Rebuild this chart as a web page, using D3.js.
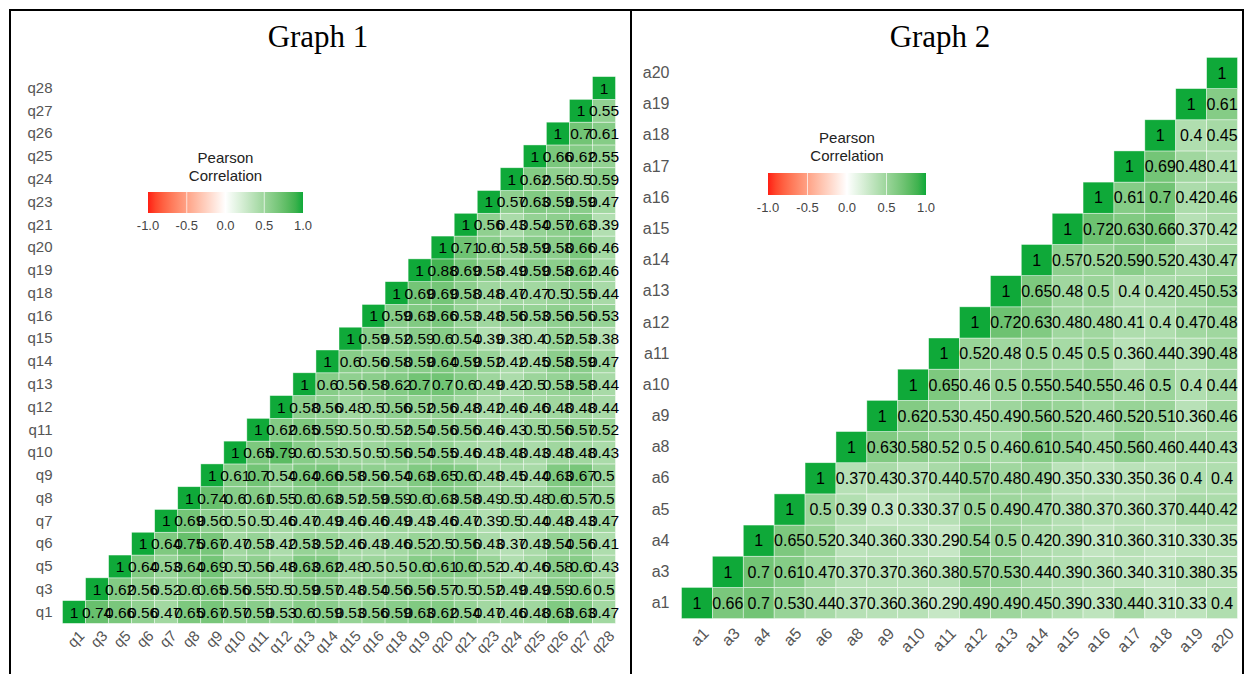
<!DOCTYPE html>
<html>
<head>
<meta charset="utf-8">
<script src="https://cdn.jsdelivr.net/npm/d3@7"></script>
<style>
  html, body { margin: 0; padding: 0; background: #fff; }
  svg { display: block; }
</style>
</head>
<body>
<div id="chart"></div>
<script>
// Graph 1 — questionnaire items (q), upper triangle, each row starts at the diagonal
const Q_VARS = ["q1","q3","q5","q6","q7","q8","q9","q10","q11","q12","q13","q14",
                "q15","q16","q18","q19","q20","q21","q23","q24","q25","q26","q27","q28"];
const Q_CORR = [
  [1,0.74,0.66,0.56,0.47,0.65,0.67,0.57,0.59,0.53,0.6,0.59,0.53,0.56,0.59,0.63,0.62,0.54,0.47,0.46,0.48,0.63,0.63,0.47],
  [1,0.62,0.56,0.52,0.6,0.65,0.56,0.55,0.5,0.59,0.57,0.48,0.54,0.56,0.56,0.57,0.5,0.52,0.49,0.49,0.59,0.6,0.5],
  [1,0.64,0.53,0.64,0.69,0.5,0.56,0.48,0.63,0.62,0.48,0.5,0.5,0.6,0.61,0.6,0.52,0.4,0.46,0.58,0.6,0.43],
  [1,0.64,0.75,0.67,0.47,0.53,0.42,0.53,0.52,0.46,0.43,0.46,0.52,0.5,0.56,0.43,0.37,0.43,0.54,0.56,0.41],
  [1,0.69,0.56,0.5,0.5,0.46,0.47,0.49,0.46,0.46,0.49,0.43,0.46,0.47,0.39,0.5,0.44,0.48,0.43,0.47],
  [1,0.74,0.6,0.61,0.55,0.6,0.63,0.52,0.59,0.59,0.6,0.63,0.58,0.49,0.5,0.48,0.6,0.57,0.5],
  [1,0.61,0.7,0.54,0.64,0.66,0.58,0.56,0.54,0.63,0.65,0.6,0.48,0.45,0.44,0.63,0.67,0.5],
  [1,0.65,0.79,0.6,0.53,0.5,0.5,0.56,0.54,0.55,0.46,0.43,0.48,0.43,0.48,0.48,0.43],
  [1,0.62,0.65,0.59,0.5,0.5,0.52,0.54,0.56,0.56,0.46,0.43,0.5,0.56,0.57,0.52],
  [1,0.58,0.56,0.48,0.5,0.56,0.52,0.56,0.48,0.42,0.46,0.46,0.48,0.48,0.44],
  [1,0.6,0.56,0.58,0.62,0.7,0.7,0.6,0.49,0.42,0.5,0.53,0.58,0.44],
  [1,0.6,0.56,0.58,0.59,0.64,0.59,0.52,0.42,0.45,0.58,0.59,0.47],
  [1,0.59,0.52,0.59,0.6,0.54,0.39,0.38,0.4,0.52,0.53,0.38],
  [1,0.59,0.63,0.66,0.53,0.48,0.56,0.53,0.56,0.56,0.53],
  [1,0.69,0.69,0.58,0.48,0.47,0.47,0.5,0.55,0.44],
  [1,0.88,0.69,0.58,0.49,0.59,0.58,0.62,0.46],
  [1,0.71,0.6,0.53,0.59,0.58,0.66,0.46],
  [1,0.56,0.43,0.54,0.57,0.63,0.39],
  [1,0.57,0.63,0.59,0.59,0.47],
  [1,0.62,0.56,0.5,0.59],
  [1,0.66,0.62,0.55],
  [1,0.7,0.61],
  [1,0.55],
  [1]
];

// Graph 2 — a items
const A_VARS = ["a1","a3","a4","a5","a6","a8","a9","a10","a11","a12","a13","a14",
                "a15","a16","a17","a18","a19","a20"];
const A_CORR = [
  [1,0.66,0.7,0.53,0.44,0.37,0.36,0.36,0.29,0.49,0.49,0.45,0.39,0.33,0.44,0.31,0.33,0.4],
  [1,0.7,0.61,0.47,0.37,0.37,0.36,0.38,0.57,0.53,0.44,0.39,0.36,0.34,0.31,0.38,0.35],
  [1,0.65,0.52,0.34,0.36,0.33,0.29,0.54,0.5,0.42,0.39,0.31,0.36,0.31,0.33,0.35],
  [1,0.5,0.39,0.3,0.33,0.37,0.5,0.49,0.47,0.38,0.37,0.36,0.37,0.44,0.42],
  [1,0.37,0.43,0.37,0.44,0.57,0.48,0.49,0.35,0.33,0.35,0.36,0.4,0.4],
  [1,0.63,0.58,0.52,0.5,0.46,0.61,0.54,0.45,0.56,0.46,0.44,0.43],
  [1,0.62,0.53,0.45,0.49,0.56,0.52,0.46,0.52,0.51,0.36,0.46],
  [1,0.65,0.46,0.5,0.55,0.54,0.55,0.46,0.5,0.4,0.44],
  [1,0.52,0.48,0.5,0.45,0.5,0.36,0.44,0.39,0.48],
  [1,0.72,0.63,0.48,0.48,0.41,0.4,0.47,0.48],
  [1,0.65,0.48,0.5,0.4,0.42,0.45,0.53],
  [1,0.57,0.52,0.59,0.52,0.43,0.47],
  [1,0.72,0.63,0.66,0.37,0.42],
  [1,0.61,0.7,0.42,0.46],
  [1,0.69,0.48,0.41],
  [1,0.4,0.45],
  [1,0.61],
  [1]
];

const LEGEND_TICKS = [-1, -0.5, 0, 0.5, 1];
const TITLES = ["Graph 1", "Graph 2"];

const W = 1250, H = 674;
const SANS = "'Liberation Sans', Arial, sans-serif";

// red — white — green, interpolated in Lab like ggplot's gradient2
const color = d3.scaleLinear()
  .domain([-1, 0, 1])
  .range(["#ff1f14", "#ffffff", "#0fa939"])
  .interpolate(d3.interpolateLab);

const svg = d3.select("#chart").append("svg")
  .attr("width", W).attr("height", H)
  .attr("viewBox", `0 0 ${W} ${H}`);

// gradient for the colourbars (shared)
const grad = svg.append("defs").append("linearGradient")
  .attr("id", "corrGrad").attr("x1", "0%").attr("x2", "100%");
d3.range(-1, 1.0001, 0.1).forEach(t => {
  grad.append("stop")
    .attr("offset", `${(t + 1) / 2 * 100}%`)
    .attr("stop-color", color(t));
});

// frame around both panels + divider
svg.append("path")
  .attr("d", "M10,674 L10,10 L1243,10 L1243,674 M631,10 L631,674")
  .attr("fill", "none").attr("stroke", "#000").attr("stroke-width", 2);

function drawPanel(cfg) {
  const { vars, rows } = cfg;
  const g = svg.append("g");

  const x = d3.scaleBand().domain(vars).range([cfg.left, cfg.right]);
  const y = d3.scaleBand().domain(vars.slice().reverse()).range([cfg.top, cfg.bottom]);

  // flatten triangle: row i, k-th value sits in column i+k
  const cells = [];
  vars.forEach((rv, i) => rows[i].forEach((v, k) => cells.push({ row: rv, col: vars[i + k], v })));

  g.selectAll(".cell")
    .data(cells)
    .join("rect")
    .attr("x", d => x(d.col)).attr("y", d => y(d.row))
    .attr("width", x.bandwidth()).attr("height", y.bandwidth())
    .attr("fill", d => color(d.v))
    .attr("stroke", "#fff").attr("stroke-opacity", 0.6).attr("stroke-width", 0.7);

  // value labels — deliberately not shrunk: the original lets them run into each other
  g.selectAll(".lab")
    .data(cells)
    .join("text")
    .attr("x", d => x(d.col) + x.bandwidth() / 2)
    .attr("y", d => y(d.row) + y.bandwidth() / 2)
    .attr("dy", "0.36em")
    .attr("text-anchor", "middle")
    .attr("font-family", SANS).attr("font-size", cfg.cellFont)
    .attr("fill", "#000")
    .text(d => String(d.v));

  // y axis labels
  g.append("g")
    .attr("transform", `translate(${cfg.left - cfg.yPad},0)`)
    .call(d3.axisLeft(y).tickSize(0).tickPadding(0))
    .call(a => a.select(".domain").remove())
    .call(a => a.selectAll("text")
      .attr("font-family", SANS).attr("font-size", cfg.axisFont).attr("fill", "#555"));

  // x axis labels, rotated 45°
  g.append("g").selectAll("text")
    .data(vars)
    .join("text")
    .attr("transform", d =>
      `translate(${x(d) + x.bandwidth() / 2 + cfg.xShift},${cfg.bottom + cfg.xPad}) rotate(-45)`)
    .attr("text-anchor", "end")
    .attr("dy", "0.7em")
    .attr("font-family", SANS).attr("font-size", cfg.axisFont).attr("fill", "#555")
    .text(d => d);

  // title
  svg.append("text")
    .attr("x", cfg.titleX).attr("y", 47)
    .attr("text-anchor", "middle")
    .attr("font-family", "'Liberation Serif', 'Times New Roman', serif")
    .attr("font-size", 31).attr("fill", "#000")
    .text(cfg.title);

  // legend
  const L = cfg.legend;
  const lg = svg.append("g");
  lg.append("text")
    .attr("x", (L.x0 + L.x1) / 2).attr("y", L.titleY)
    .attr("text-anchor", "middle")
    .attr("font-family", SANS).attr("font-size", 15).attr("fill", "#222")
    .selectAll("tspan")
    .data(["Pearson", "Correlation"])
    .join("tspan")
    .attr("x", (L.x0 + L.x1) / 2)
    .attr("dy", (d, i) => i === 0 ? 0 : 18)
    .text(d => d);

  lg.append("rect")
    .attr("x", L.x0).attr("y", L.y0)
    .attr("width", L.x1 - L.x0).attr("height", L.h)
    .attr("fill", "url(#corrGrad)");

  const lx = d3.scaleLinear().domain([-1, 1]).range([L.x0, L.x1]);
  lg.selectAll(".tk")
    .data(LEGEND_TICKS.slice(1, -1))
    .join("line")
    .attr("x1", d => lx(d)).attr("x2", d => lx(d))
    .attr("y1", L.y0).attr("y2", L.y0 + L.h)
    .attr("stroke", "#fff").attr("stroke-opacity", 0.7).attr("stroke-width", 1);

  lg.selectAll(".tl")
    .data(LEGEND_TICKS)
    .join("text")
    .attr("x", d => lx(d)).attr("y", L.y0 + L.h + 17)
    .attr("text-anchor", "middle")
    .attr("font-family", SANS).attr("font-size", 13).attr("fill", "#444")
    .text(d => d3.format(".1f")(d).replace("\u2212", "-"));
}

drawPanel({
  vars: Q_VARS, rows: Q_CORR, title: TITLES[0], titleX: 318,
  left: 62.5, right: 615.5, top: 76.6, bottom: 623.4,
  cellFont: 15.5, axisFont: 15, yPad: 10, xPad: 6, xShift: 4,
  legend: { x0: 148, x1: 303, y0: 192, h: 21, titleY: 163 }
});

drawPanel({
  vars: A_VARS, rows: A_CORR, title: TITLES[1], titleX: 940,
  left: 681.5, right: 1237.5, top: 57.4, bottom: 618.6,
  cellFont: 16, axisFont: 16, yPad: 12, xPad: 8, xShift: 5,
  legend: { x0: 768, x1: 926, y0: 173, h: 22, titleY: 143 }
});
</script>
</body>
</html>
